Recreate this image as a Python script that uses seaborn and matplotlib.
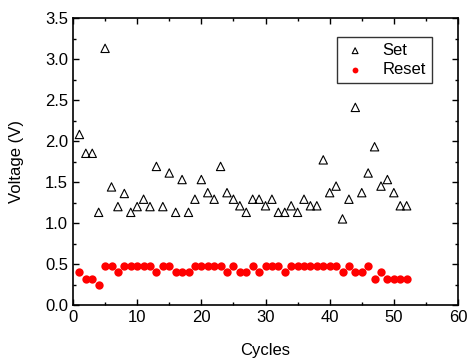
import matplotlib
matplotlib.use("Agg")
import matplotlib.pyplot as plt
import seaborn as sns
import pandas as pd
from matplotlib.ticker import MultipleLocator

cycles = list(range(1, 53))
set_v = [2.08, 1.85, 1.85, 1.13, 3.13, 1.44, 1.20, 1.36, 1.13, 1.20,
         1.29, 1.20, 1.69, 1.20, 1.61, 1.13, 1.53, 1.13, 1.29, 1.53,
         1.37, 1.29, 1.69, 1.37, 1.29, 1.21, 1.13, 1.29, 1.29, 1.21,
         1.29, 1.13, 1.13, 1.21, 1.13, 1.29, 1.21, 1.21, 1.77, 1.37,
         1.45, 1.05, 1.29, 2.41, 1.37, 1.61, 1.93, 1.45, 1.53, 1.37,
         1.21, 1.21]
reset_v = [0.40, 0.32, 0.32, 0.24, 0.48, 0.48, 0.40, 0.48, 0.48, 0.48,
           0.48, 0.48, 0.40, 0.48, 0.48, 0.40, 0.40, 0.40, 0.48, 0.48,
           0.48, 0.48, 0.48, 0.40, 0.48, 0.40, 0.40, 0.48, 0.40, 0.48,
           0.48, 0.48, 0.40, 0.48, 0.48, 0.48, 0.48, 0.48, 0.48, 0.48,
           0.48, 0.40, 0.48, 0.40, 0.40, 0.48, 0.32, 0.40, 0.32, 0.32,
           0.32, 0.32]

sns.set_style("ticks")
plt.rcParams['font.family'] = ['Liberation Sans', 'DejaVu Sans']
plt.rcParams['font.size'] = 12
plt.rcParams['text.color'] = 'black'
plt.rcParams['axes.labelcolor'] = 'black'
plt.rcParams['xtick.color'] = 'black'
plt.rcParams['ytick.color'] = 'black'

df_set = pd.DataFrame({"Cycles": cycles, "Voltage": set_v})
df_reset = pd.DataFrame({"Cycles": cycles, "Voltage": reset_v})

fig = plt.figure(figsize=(4.67, 3.58), dpi=100)
ax = fig.add_axes([73/467, 1-305/358, (458-73)/467, (305-18)/358])

sns.scatterplot(data=df_set, x="Cycles", y="Voltage", ax=ax, marker="^",
                s=36, facecolor="none", edgecolor="black", linewidth=0.8, label="Set")
sns.scatterplot(data=df_reset, x="Cycles", y="Voltage", ax=ax, marker="o",
                s=36, color="red", edgecolor="red", linewidth=0, label="Reset")

ax.set_xlim(0, 60)
ax.set_ylim(0, 3.5)
ax.xaxis.set_major_locator(MultipleLocator(10))
ax.xaxis.set_minor_locator(MultipleLocator(5))
ax.yaxis.set_major_locator(MultipleLocator(0.5))
ax.yaxis.set_minor_locator(MultipleLocator(0.25))
ax.yaxis.set_major_formatter(matplotlib.ticker.FormatStrFormatter('%.1f'))
ax.tick_params(which='both', direction='in', top=True, right=True, labelsize=12, width=1, color='black')
ax.tick_params(which='major', length=4)
ax.tick_params(which='minor', length=2.5)
for sp in ax.spines.values():
    sp.set_visible(True)
    sp.set_linewidth(1.2)
    sp.set_color('black')
ax.set_xlabel("Cycles", fontsize=12, labelpad=13)
ax.set_ylabel("Voltage (V)", fontsize=12, labelpad=15)

leg = ax.legend(loc='upper right', bbox_to_anchor=(0.932, 0.933), borderaxespad=0,
                fancybox=False, framealpha=1, edgecolor='#333333', fontsize=12,
                handletextpad=0.9, borderpad=0.35, labelspacing=0.25,
                handlelength=1.5, markerscale=0.7)
leg.get_frame().set_linewidth(1.0)

fig.savefig("out.png", dpi=100)
